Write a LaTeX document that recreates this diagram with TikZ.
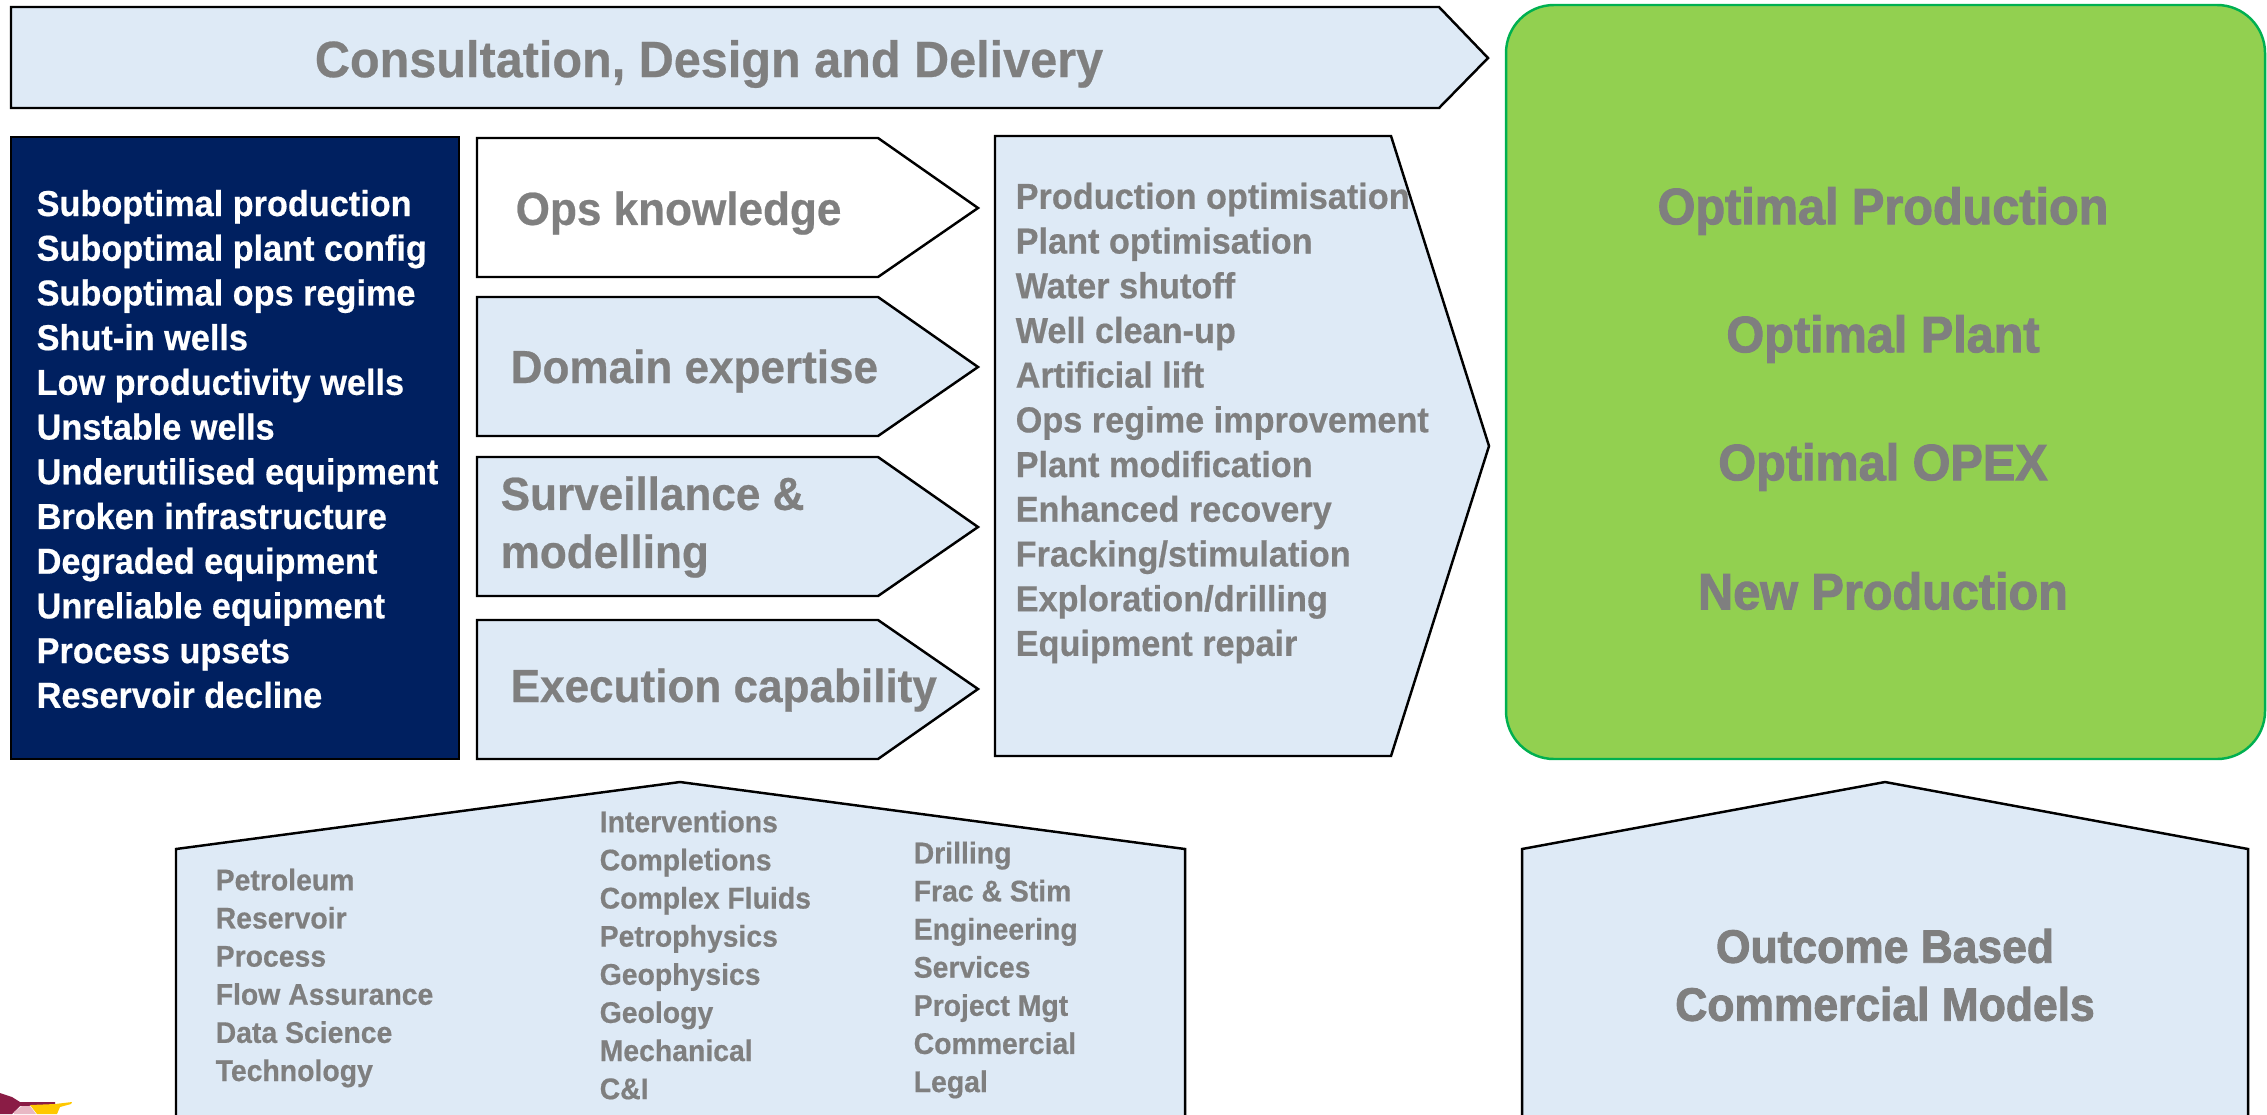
\documentclass[tikz,border=0pt]{standalone}
\usepackage{fontspec}
\setmainfont{Liberation Sans}
\newfontfamily\condfont[FakeStretch=0.95,FakeBold=0.5]{Liberation Sans}
\newfontfamily\heavyfont[FakeStretch=0.95,FakeBold=2]{Liberation Sans}
\definecolor{paleblue}{HTML}{DEEAF6}
\definecolor{navybox}{HTML}{002060}
\definecolor{limebox}{HTML}{92D050}
\definecolor{limeedge}{HTML}{00B050}
\definecolor{greytext}{HTML}{7F7F7F}
\definecolor{crestred}{HTML}{8A1C45}
\definecolor{crestgold}{HTML}{FFC800}
\definecolor{crestpink}{HTML}{E8B8C4}
\begin{document}
\begin{tikzpicture}[
    y=-1cm,
    panel/.style={
        draw=black,
        line width=0.7pt,
        fill=paleblue,
        line join=miter
    },
    heading/.style={
        text=greytext,
        inner sep=0pt,
        font=\condfont\bfseries\fontsize{14.55}{17}\selectfont
    },
    stage/.style={
        anchor=west,
        text=greytext,
        inner sep=0pt,
        align=left,
        font=\condfont\bfseries\fontsize{13.2}{16.5}\selectfont
    },
    itemlist/.style={
        anchor=west,
        text=greytext,
        inner sep=0pt,
        align=left,
        font=\condfont\bfseries\fontsize{10.26}{12.72}\selectfont
    },
    skilllist/.style={
        anchor=west,
        text=greytext,
        inner sep=0pt,
        align=left,
        font=\condfont\bfseries\fontsize{8.5}{10.85}\selectfont
    },
    outcome/.style={
        text=greytext,
        inner sep=0pt,
        align=center,
        font=\heavyfont\bfseries\fontsize{14.55}{17}\selectfont
    }
]
\clip (0,0) rectangle (22.67,11.14);

% Top arrow
\draw[panel] (0.11,0.07) -- (14.39,0.07) -- (14.88,0.58) -- (14.39,1.08) -- (0.11,1.08) -- cycle;
\node[heading] (consult) at (7.09,0.64) {Consultation, Design and Delivery};

% Problems
\fill[navybox] (0.11,1.37) rectangle (4.59,7.59);
\draw[black,line width=0.7pt] (0.11,1.37) rectangle (4.59,7.59);
\node[itemlist,text=white] (problems) at (0.36,4.49) {Suboptimal production\\Suboptimal plant config\\Suboptimal ops regime\\Shut-in wells\\Low productivity wells\\Unstable wells\\Underutilised equipment\\Broken infrastructure\\Degraded equipment\\Unreliable equipment\\Process upsets\\Reservoir decline};

% Capabilities
\draw[panel,fill=white] (4.77,1.38) -- (8.78,1.38) -- (9.78,2.08) -- (8.78,2.77) -- (4.77,2.77) -- cycle;
\node[stage] (ops) at (5.15,2.13) {Ops knowledge};

\draw[panel] (4.77,2.97) -- (8.78,2.97) -- (9.78,3.67) -- (8.78,4.36) -- (4.77,4.36) -- cycle;
\node[stage] (domain) at (5.1,3.71) {Domain expertise};

\draw[panel] (4.77,4.57) -- (8.78,4.57) -- (9.78,5.27) -- (8.78,5.96) -- (4.77,5.96) -- cycle;
\node[stage] (surveillance) at (5.0,5.27) {Surveillance \&\\modelling};

\draw[panel] (4.77,6.2) -- (8.78,6.2) -- (9.78,6.89) -- (8.78,7.59) -- (4.77,7.59) -- cycle;
\node[stage] (execution) at (5.1,6.9) {Execution capability};

% Services
\draw[panel] (9.95,1.36) -- (13.91,1.36) -- (14.89,4.46) -- (13.91,7.56) -- (9.95,7.56) -- cycle;
\node[itemlist] (services) at (10.15,4.23) {Production optimisation\\Plant optimisation\\Water shutoff\\Well clean-up\\Artificial lift\\Ops regime improvement\\Plant modification\\Enhanced recovery\\Fracking/stimulation\\Exploration/drilling\\Equipment repair};

% Outcomes
\draw[draw=limeedge,line width=0.7pt,fill=limebox,rounded corners=0.48cm] (15.06,0.05) rectangle (22.65,7.59);
\node[outcome] (production) at (18.83,2.11) {Optimal Production};
\node[outcome] (plant) at (18.83,3.39) {Optimal Plant};
\node[outcome] (opex) at (18.83,4.67) {Optimal OPEX};
\node[outcome] (newprod) at (18.83,5.91) {New Production};

% Disciplines
\draw[panel] (1.76,11.4) -- (1.76,8.49) -- (6.8,7.82) -- (11.85,8.49) -- (11.85,11.4) -- cycle;
\node[skilllist] (subsurface) at (2.15,9.78) {Petroleum\\Reservoir\\Process\\Flow Assurance\\Data Science\\Technology};
\node[skilllist] (wells) at (5.99,9.55) {Interventions\\Completions\\Complex Fluids\\Petrophysics\\Geophysics\\Geology\\Mechanical\\C\&I};
\node[skilllist] (delivery) at (9.13,9.7) {Drilling\\Frac \& Stim\\Engineering\\Services\\Project Mgt\\Commercial\\Legal};

% Commercial models
\draw[panel] (15.22,11.4) -- (15.22,8.49) -- (18.85,7.82) -- (22.48,8.49) -- (22.48,11.4) -- cycle;
\node[outcome,font=\heavyfont\bfseries\fontsize{13.3}{16.5}\selectfont] (models) at (18.85,9.75) {Outcome Based\\Commercial Models};

% Crest
\fill[crestred] (0,10.93) -- (0.12,10.97) -- (0.2,11.02) -- (0.55,11.02) -- (0.55,11.05) -- (0.2,11.06) -- (0.12,11.14) -- (0,11.14) -- cycle;
\fill[crestpink] (0.14,11.12) -- (0.22,11.06) -- (0.3,11.06) -- (0.36,11.14) -- (0.14,11.14) -- cycle;
\fill[crestgold] (0.3,11.05) -- (0.55,11.04) -- (0.72,11.02) -- (0.71,11.04) -- (0.6,11.07) -- (0.57,11.14) -- (0.37,11.14) -- cycle;
\end{tikzpicture}
\end{document}
